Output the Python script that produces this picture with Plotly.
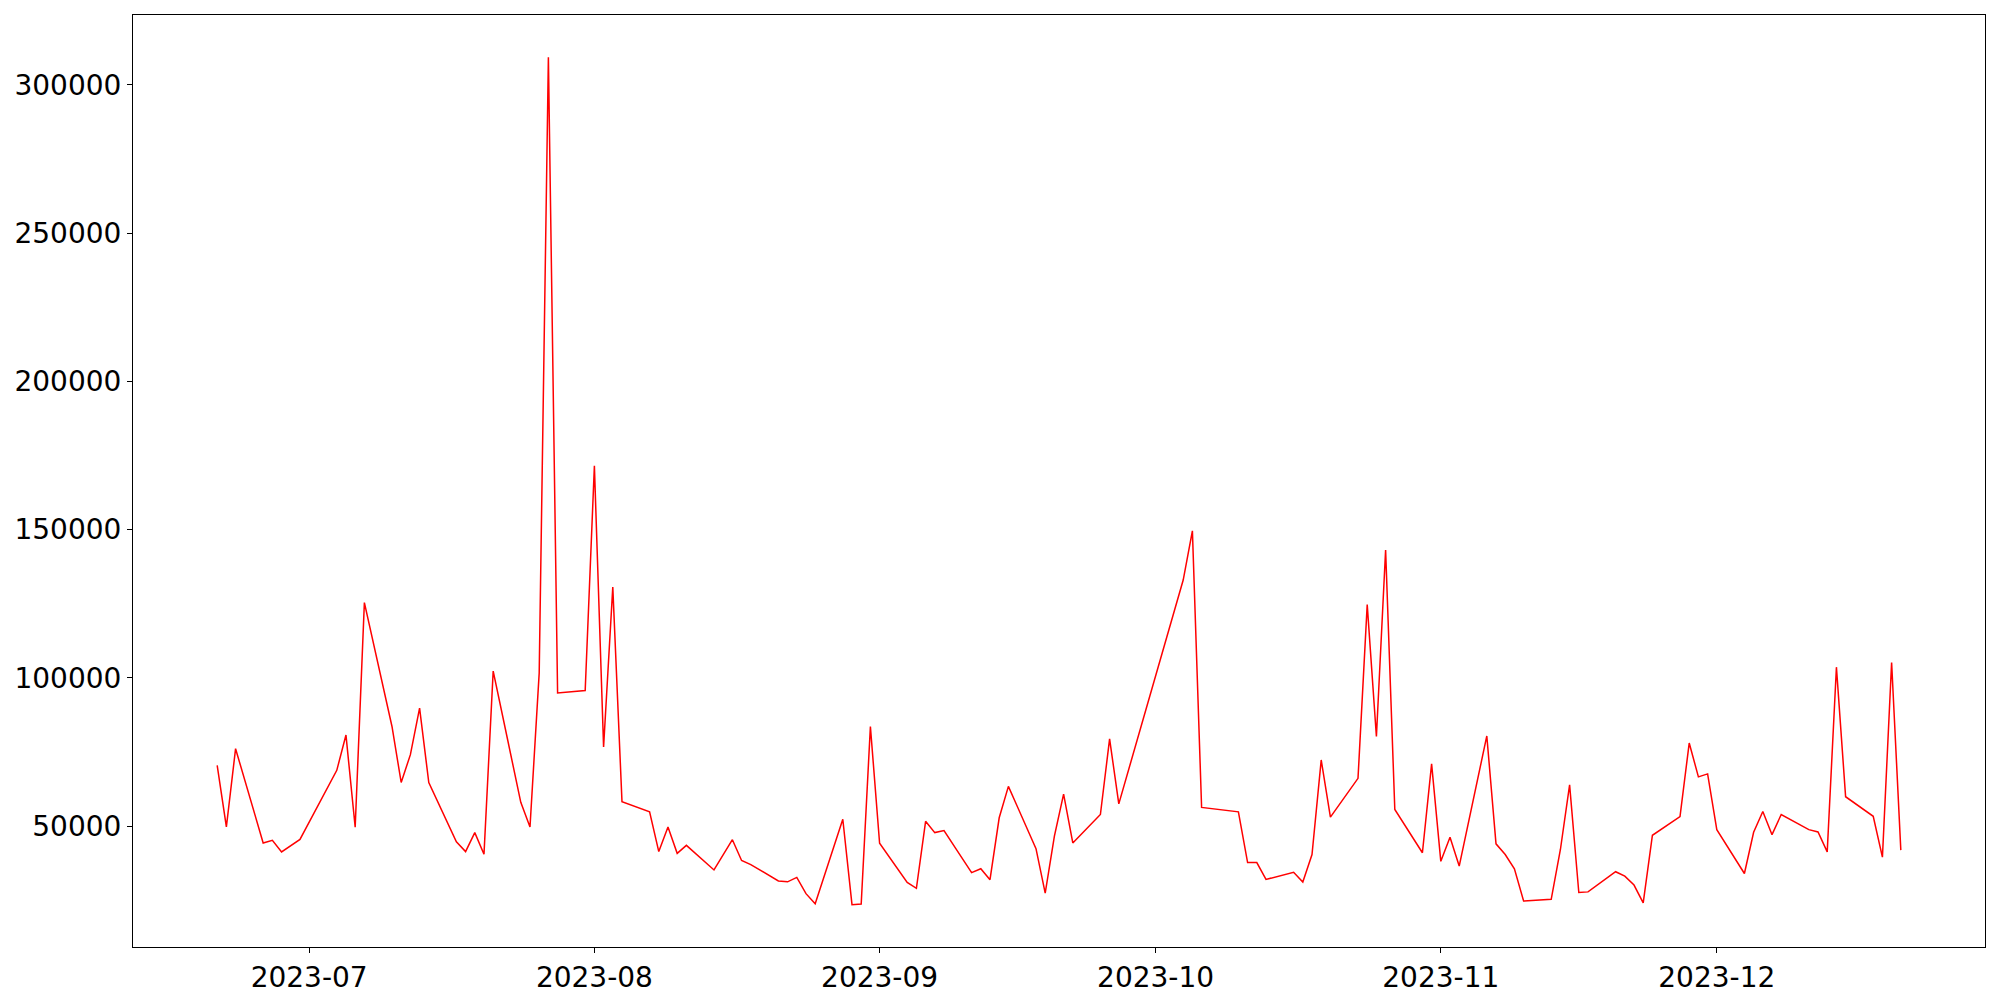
import pandas as pd
import plotly.graph_objects as go

# daily values (weekdays, some gaps)
dates = [
    '2023-06-21', '2023-06-22', '2023-06-23', '2023-06-26', '2023-06-27', '2023-06-28', '2023-06-30',
    '2023-07-04', '2023-07-05', '2023-07-06', '2023-07-07', '2023-07-10', '2023-07-11', '2023-07-12',
    '2023-07-13', '2023-07-14', '2023-07-17', '2023-07-18', '2023-07-19', '2023-07-20', '2023-07-21',
    '2023-07-24', '2023-07-25', '2023-07-26', '2023-07-27', '2023-07-28', '2023-07-31',
    '2023-08-01', '2023-08-02', '2023-08-03', '2023-08-04', '2023-08-07', '2023-08-08', '2023-08-09',
    '2023-08-10', '2023-08-11', '2023-08-14', '2023-08-16', '2023-08-17', '2023-08-18', '2023-08-21',
    '2023-08-22', '2023-08-23', '2023-08-24', '2023-08-25', '2023-08-28', '2023-08-29', '2023-08-30',
    '2023-08-31', '2023-09-01', '2023-09-04', '2023-09-05', '2023-09-06', '2023-09-07', '2023-09-08',
    '2023-09-11', '2023-09-12', '2023-09-13', '2023-09-14', '2023-09-15', '2023-09-18', '2023-09-19',
    '2023-09-20', '2023-09-21', '2023-09-22', '2023-09-25', '2023-09-26', '2023-09-27',
    '2023-10-04', '2023-10-05', '2023-10-06', '2023-10-10', '2023-10-11', '2023-10-12', '2023-10-13',
    '2023-10-16', '2023-10-17', '2023-10-18', '2023-10-19', '2023-10-20', '2023-10-23', '2023-10-24',
    '2023-10-25', '2023-10-26', '2023-10-27', '2023-10-30', '2023-10-31',
    '2023-11-01', '2023-11-02', '2023-11-03', '2023-11-06', '2023-11-07', '2023-11-08', '2023-11-09',
    '2023-11-10', '2023-11-13', '2023-11-14', '2023-11-15', '2023-11-16', '2023-11-17', '2023-11-20',
    '2023-11-21', '2023-11-22', '2023-11-23', '2023-11-24', '2023-11-27', '2023-11-28', '2023-11-29',
    '2023-11-30', '2023-12-01', '2023-12-04', '2023-12-05', '2023-12-06', '2023-12-07', '2023-12-08',
    '2023-12-11', '2023-12-12', '2023-12-13', '2023-12-14', '2023-12-15', '2023-12-18', '2023-12-19',
    '2023-12-20', '2023-12-21',
]

values = [
    70500, 49700, 76100, 44300, 45200, 41300, 45500,
    68800, 80700, 49600, 125400, 83600, 64700, 74100,
    89800, 64700, 44700, 41400, 47800, 40500, 102300,
    58000, 49700, 101600, 309300, 94900, 95700,
    171500, 76700, 130600, 58200, 54800, 41400, 49700,
    40800, 43500, 35200, 45400, 38400, 37000, 31500,
    31200, 32700, 27200, 23800, 52300, 23500, 23700,
    83600, 44200, 31000, 29000, 51600, 47800, 48500,
    34300, 35600, 31900, 52800, 63400, 42400, 27400,
    46600, 60800, 44300, 53900, 79400, 57500,
    133000, 149600, 56300, 54800, 37700, 37700, 32000,
    34400, 31100, 40400, 72300, 53000, 66100, 124700,
    80200, 143100, 55600, 41000, 71000,
    38100, 46200, 36500, 80400, 44000, 40400, 35600,
    24700, 25300, 42100, 63900, 27600, 27800, 34600,
    33100, 30100, 24100, 46900, 53200, 78000, 66600,
    67600, 48800, 34000, 47900, 54900, 47100, 53900,
    48800, 48000, 41300, 103600, 59900, 53300, 39500,
    105200, 41900,
]

x_ticks = ['2023-07-01', '2023-08-01', '2023-09-01', '2023-10-01', '2023-11-01', '2023-12-01']
x_tick_labels = ['2023-07', '2023-08', '2023-09', '2023-10', '2023-11', '2023-12']
y_ticks = [50000, 100000, 150000, 200000, 250000, 300000]

x = pd.to_datetime(dates)

# matplotlib-style 5% margins
span = x.max() - x.min()
x_range = [x.min() - span * 0.05, x.max() + span * 0.05]
vspan = max(values) - min(values)
y_range = [min(values) - vspan * 0.05, max(values) + vspan * 0.05]

fig = go.Figure()
fig.add_trace(go.Scatter(
    x=x, y=values, mode='lines',
    line=dict(color='#ff0000', width=1.5),
    showlegend=False,
))

axis_style = dict(
    showline=True, linecolor='black', linewidth=1.1, mirror=True,
    ticks='outside', ticklen=5, tickwidth=1.1, tickcolor='black',
    showgrid=False, zeroline=False,
    tickfont=dict(family='DejaVu Sans', size=28, color='black'),
)

fig.update_xaxes(range=x_range, tickvals=pd.to_datetime(x_ticks), ticktext=x_tick_labels, **axis_style)
fig.update_yaxes(range=y_range, tickvals=y_ticks, ticktext=[str(v) for v in y_ticks], **axis_style)

# page body has an 8px margin, so shrink the figure and margins to compensate
fig.update_layout(
    width=1992, height=992,
    plot_bgcolor='white', paper_bgcolor='white',
    font_family='DejaVu Sans',
    margin=dict(l=122, r=15, t=6, b=53),
)

fig.write_html("out.html")
